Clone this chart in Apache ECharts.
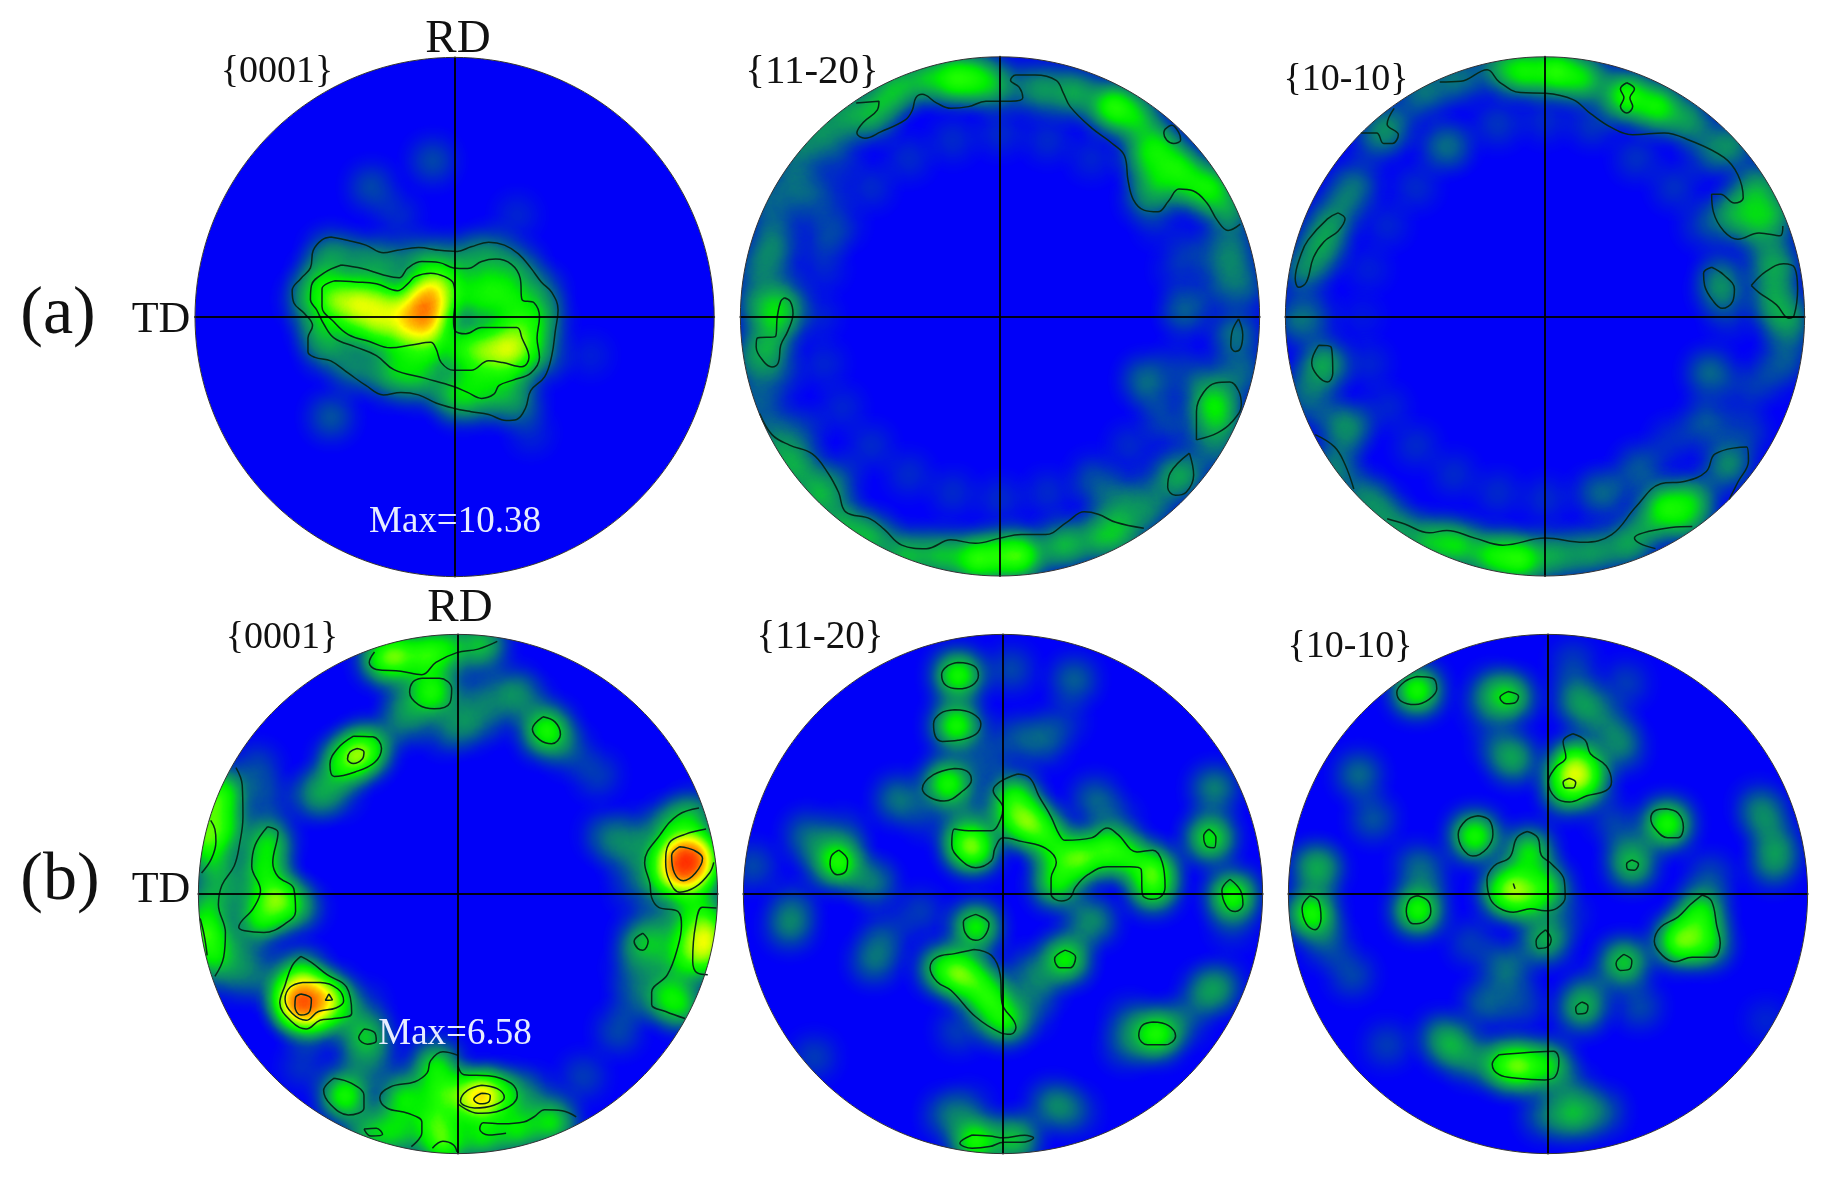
<!DOCTYPE html>
<html>
<head>
<meta charset="utf-8">
<title>Pole figures</title>
<style>
  html, body { margin: 0; padding: 0; background: #fff; }
  #chart { width: 1830px; height: 1183px; }
</style>
<script src="https://cdn.jsdelivr.net/npm/echarts@6/dist/echarts.min.js"></script>
</head>
<body>
<div id="chart"></div>
<script>
// digitised readings, one frame per figure, y running downwards: [x, y, intensity] and contour traces [x, y]
const a1Center = [783, 790];
const a1Heat = [
  [715,715,.5],[700,760,.8],[695,800,.5],[703,755,.9],
  [450,740,.5],[510,742,.5],[570,745,.45],[630,770,.35],[490,800,.3],[560,820,.35],[640,830,.35],[710,840,.25],[740,690,.25],[560,800,.25],[640,800,.25],[720,830,.2],
  [810,880,.4],[870,880,.45],[930,875,.55],[960,890,.3],
  [880,700,.3],[930,730,.3],[850,760,.25],[960,790,.3],[800,720,.25],[700,900,.3],[620,910,.25],[850,960,.28],[930,950,.28],
  [780,1000,.25],[680,970,.25],[980,840,.25],[1030,800,.25],[1030,900,.2],[960,1030,.22],[880,1020,.22],[800,1030,.2],
  [600,960,.22],[500,930,.22],[420,880,.2],[400,820,.25],[370,740,.25],[400,680,.25],[430,610,.22],[520,630,.22],[600,640,.22],
  [700,630,.25],[800,630,.22],[880,610,.22],[960,650,.22],[1020,720,.22],
  [720,345,.12],[545,420,.12],[430,1075,.14],[620,500,.07],[960,500,.06],[1170,900,.05],[1000,1120,.06]
];
const a1Contours = [
  [[430,562],[480,572],[530,585],[580,607],[620,600],[680,592],[740,600],[790,603],[830,590],[880,577],[925,585],[965,610],[1000,650],[1030,690],[1060,720],[1078,770],[1070,830],[1060,900],[1040,960],[1000,1000],[985,1050],[960,1082],[930,1085],[880,1068],[830,1060],[780,1050],[730,1035],[680,1012],[630,1005],[580,1012],[530,985],[480,950],[430,915],[385,905],[365,890],[365,850],[378,815],[355,780],[325,750],[320,715],[345,680],[372,650],[380,600],[405,570],[430,562]],
  [[460,642],[520,652],[580,670],[625,678],[650,650],[690,632],[740,635],[780,650],[820,652],[860,632],[900,625],[945,640],[970,680],[975,740],[1010,750],[1025,790],[1018,850],[1025,905],[1000,950],[950,970],[910,985],[895,1010],[860,1022],[820,1005],[780,988],[700,965],[610,940],[560,900],[500,875],[440,850],[410,810],[390,770],[372,740],[375,700],[410,665],[460,642]],
  [[440,687],[500,690],[560,695],[620,715],[650,695],[670,675],[715,665],[755,675],[780,695],[785,740],[780,800],[785,830],[815,838],[860,820],[960,820],[975,850],[995,905],[975,932],[920,920],[880,915],[830,942],[780,942],[745,920],[730,880],[715,862],[660,870],[600,878],[540,860],[480,840],[440,805],[405,760],[405,710],[440,687]]
];

const a2Center = [770, 788];
const a2Heat = [
  [640,110,.45],[560,110,.3],[480,130,.26],[700,110,.34],[760,130,.26],[880,140,.26],[980,150,.3],[1090,190,.55],[1160,220,.34],[1220,300,.32],[1180,330,.25],[1280,360,.38],[1370,420,.4],[1220,400,.25],[1190,450,.18],[1310,420,.24],[1420,490,.26],
  [700,1480,.6],[830,1470,.6],[600,1470,.34],[500,1470,.34],[950,1440,.34],[1050,1420,.28],[1120,1410,.22],[400,1420,.32],[320,1380,.3],[250,1300,.3],[190,1220,.28],[130,1170,.22],[770,1470,.35],
  [120,550,.17],[80,650,.17],[70,750,.17],[60,900,.15],[150,740,.24],[140,800,.24],[110,880,.24],[100,450,.15],[180,380,.15],[270,440,.1],[270,560,.1],[200,300,.17],[260,250,.19],[330,210,.22],[400,220,.24],[440,170,.22],[60,1000,.12],[100,1080,.14],
  [1380,1040,.38],[1400,1090,.18],[1290,1240,.26],[1185,970,.18],[1440,840,.2],[1300,760,.12],[1400,700,.12],[1470,700,.15],[1330,980,.12],[1250,1100,.08],[1390,1170,.15],[1200,1340,.2],[1130,1300,.14],[1050,1280,.1],[1440,600,.14],[1470,950,.14],[1320,600,.08],
  [303,321,.12],[198,458,.12],[132,617,.12],[110,788,.12],[132,959,.12],[198,1118,.12],[303,1255,.14],[1407,617,.12],[1407,959,.1],[1341,1118,.1],[1237,1255,.12],[1100,1360,.16],
  [320,528,.06],[268,653,.06],[250,788,.06],[268,923,.06],[320,1048,.06],[402,1156,.07],[510,1238,.07],[635,1290,.07],[770,1308,.07],[905,1290,.07],[1030,1238,.07],[1138,1156,.07],[1220,1048,.07],[1272,923,.06],[1290,788,.06],[1272,653,.06],[1220,528,.05],[402,420,.07],[510,338,.07],[635,286,.07],[770,268,.07],[905,286,.07],[1030,338,.06]
];
const a2Contours = [
  [[360,180],[425,175],[420,200],[380,235],[362,265],[385,280],[430,262],[500,228],[520,200],[530,165],[548,155],[590,180],[630,195],[680,190],[730,175],[800,175],[835,165],[825,135],[800,115],[815,100],[870,100],[930,115],[950,150],[970,190],[1030,250],[1090,295],[1125,330],[1135,400],[1150,455],[1180,485],[1220,490],[1250,460],[1280,425],[1320,430],[1360,465],[1390,515],[1420,543],[1455,525]],
  [[1240,255],[1260,243],[1280,265],[1285,285],[1265,295],[1245,285],[1237,265],[1240,255]],
  [[155,735],[172,745],[180,780],[165,830],[145,870],[138,920],[120,932],[95,915],[75,875],[78,850],[130,845],[135,790],[145,745],[155,735]],
  [[1450,795],[1462,840],[1455,880],[1440,888],[1428,870],[1432,830],[1450,795]],
  [[1330,1140],[1330,1060],[1350,1005],[1385,978],[1425,975],[1450,1000],[1458,1040],[1430,1090],[1390,1120],[1330,1140]],
  [[1310,1178],[1322,1240],[1300,1290],[1270,1298],[1248,1275],[1255,1235],[1310,1178]],
  [[85,1065],[120,1125],[170,1155],[235,1180],[280,1235],[310,1290],[330,1345],[400,1365],[440,1395],[490,1440],[560,1450],[630,1425],[700,1435],[770,1420],[830,1410],[900,1410],[960,1375],[1010,1345],[1050,1352],[1100,1375],[1180,1392]]
];

const a3Center = [770, 788];
const a3Heat = [
  [800,90,.55],[880,110,.38],[1000,160,.8],[1090,190,.45],[1180,230,.26],[710,90,.42],[640,80,.24],
  [1300,300,.22],[1380,420,.26],[1420,500,.26],[1300,500,.24],[1370,530,.22],[1430,640,.2],[1420,720,.24],[1270,710,.22],[1470,800,.2],[1460,900,.14],
  [130,580,.2],[80,660,.2],[160,520,.2],[230,410,.15],[480,305,.14],[330,240,.18],[290,280,.15],[420,150,.2],[520,110,.2],[140,920,.26],[60,800,.15],[210,1100,.18],[170,1220,.22],[250,1300,.18],[70,1000,.12],[120,1050,.12],[300,1340,.17],
  [700,1480,.65],[620,1470,.42],[520,1440,.38],[440,1430,.32],[350,1400,.24],[800,1470,.28],[900,1460,.26],[1000,1440,.26],[1110,1330,.42],[1190,1310,.3],[1290,1210,.24],[1170,1370,.24],[1060,1390,.2],[1040,1220,.15],[1240,950,.18],[950,1290,.13],[1230,1090,.15],
  [198,458,.12],[132,617,.09],[110,788,.1],[132,959,.09],[198,1118,.1],[1407,617,.12],[1430,788,.14],[1407,959,.09],[1341,1118,.1],[1237,321,.13],[1341,458,.13],[1130,1140,.08],[1340,1000,.07],
  [320,528,.06],[268,653,.05],[250,788,.04],[268,923,.06],[320,1048,.06],[402,1156,.07],[510,1238,.07],[635,1290,.07],[770,1308,.07],[905,1290,.08],[1220,528,.09],[1272,653,.09],[1290,788,.07],[1138,420,.08],[1030,338,.08],[402,420,.07],[510,300,.07],[635,240,.09],[770,230,.07],[905,240,.09]
];
const a3Contours = [
  [[470,120],[530,118],[605,85],[640,120],[700,150],[770,152],[850,170],[900,210],[960,250],[1020,270],[1110,265],[1180,285],[1280,335],[1320,385],[1335,450],[1310,465],[1270,440],[1245,440],[1250,490],[1280,545],[1320,568],[1380,550],[1440,558],[1448,530]],
  [[1003,122],[1025,140],[1012,165],[1020,190],[1003,208],[985,190],[995,165],[985,140],[1003,122]],
  [[245,265],[290,265],[310,295],[335,295],[352,270],[320,240],[340,195]],
  [[180,493],[200,510],[180,545],[140,575],[110,620],[90,690],[68,705],[58,680],[75,610],[95,570],[150,510],[180,493]],
  [[1245,648],[1280,670],[1310,710],[1305,745],[1275,765],[1250,745],[1225,700],[1222,665],[1245,648]],
  [[1358,700],[1400,660],[1450,638],[1482,650],[1490,710],[1480,785],[1465,793],[1430,755],[1380,720],[1358,700]],
  [[125,870],[160,875],[165,950],[150,975],[120,955],[105,920],[125,870]],
  [[115,1125],[170,1160],[200,1210],[225,1280]],
  [[320,1365],[370,1380],[440,1405],[490,1398],[570,1420],[650,1440],[770,1420],[880,1432],[960,1410],[1030,1330],[1100,1265],[1170,1258],[1230,1230],[1255,1180],[1345,1160],[1350,1200],[1320,1260],[1295,1310]],
  [[1190,1387],[1130,1390],[1050,1405],[1025,1420],[1040,1435],[1085,1450]]
];

const b1Center = [793, 810];
const b1Heat = [
  [1435,720,.9],[1435,725,.9],[1440,710,.8],[1450,705,.5],[1425,750,.5],[1480,690,.4],[1490,750,.3],[1400,620,.3],[1460,590,.3],[1350,700,.22],[1370,780,.25],[1460,830,.3],
  [1500,930,.6],[1500,960,.3],[1495,990,.35],[1495,880,.3],[1430,1000,.3],[1440,940,.22],[1390,1100,.35],[1430,1130,.3],[1300,1100,.14],[1320,945,.3],[1240,660,.12],[1300,640,.12],
  [345,1120,.85],[345,1120,.9],[345,1122,.7],[425,1105,.5],[385,1110,.45],[345,1040,.42],[440,1150,.22],[370,1180,.22],[310,1100,.22],
  [70,650,.65],[80,560,.4],[120,520,.42],[125,620,.36],[100,730,.3],[70,920,.55],[90,990,.35],[80,840,.3],[150,800,.18],
  [250,660,.38],[240,740,.38],[270,820,.52],[230,880,.42],[310,840,.28],[150,1040,.14],
  [505,415,.6],[460,440,.34],[540,390,.34],[400,520,.16],
  [620,130,.45],[700,130,.45],[580,140,.4],[720,235,.56],[760,110,.35],[860,100,.35],[950,235,.22],[820,320,.2],[640,320,.14],[1045,345,.52],[1190,470,.1],[1110,400,.12],
  [470,1385,.6],[730,1300,.42],[750,1380,.45],[640,1390,.42],[730,1460,.45],[750,1520,.5],[860,1385,.8],[860,1388,.9],[930,1380,.3],[820,1390,.3],[860,1500,.42],[960,1480,.42],[1060,1460,.42],[540,1490,.32],[620,1500,.28],[530,1215,.36],
  [640,250,.12],[850,240,.14],[900,300,.1],[760,340,.14],[650,300,.1],[1000,260,.08],[380,530,.12],[450,520,.12],[220,450,.12],[240,540,.12],[350,850,.12],[150,950,.14],[200,1000,.1],[230,1050,.12],[520,1130,.1],[560,1300,.12],[350,1300,.08],[500,1290,.1],[1000,1380,.14],[1150,1330,.1],[1250,1200,.12],[1290,1020,.1],[1350,1000,.14],[1210,640,.1],[1280,720,.1],[1290,800,.08],[1380,900,.16],[620,1460,.16]
];
const b1Contours = [
  [[555,120],[540,150],[560,170],[630,175],[690,185],[730,150],[790,122],[850,112],[905,90]],
  [[690,195],[740,195],[775,225],[770,265],[725,282],[680,270],[655,235],[665,205],[690,195]],
  [[495,360],[550,362],[575,395],[555,435],[500,462],[440,475],[428,440],[450,395],[495,360]],
  [[505,395],[525,405],[520,425],[495,438],[478,425],[485,405],[505,395]],
  [[1035,305],[1070,320],[1085,355],[1060,382],[1025,370],[1005,340],[1035,305]],
  [[160,450],[178,500],[180,590],[170,670],[155,730],[120,785],[110,840],[130,920],[125,990],[100,1045]],
  [[88,600],[100,625],[103,660],[90,710],[62,750]],
  [[58,880],[70,930],[78,985]],
  [[250,618],[280,635],[265,720],[280,760],[325,795],[330,860],[300,895],[240,920],[185,915],[168,905],[210,850],[230,800],[205,730],[215,670],[250,618]],
  [[345,988],[375,1005],[420,1040],[475,1075],[490,1150],[440,1165],[400,1170],[360,1195],[320,1175],[285,1120],[300,1070],[320,1015],[345,988]],
  [[350,1062],[400,1062],[450,1080],[467,1115],[445,1135],[395,1145],[360,1170],[320,1150],[300,1110],[315,1075],[350,1062]],
  [[345,1095],[375,1110],[370,1145],[345,1155],[328,1130],[330,1105],[345,1095]],
  [[425,1095],[435,1112],[415,1113],[425,1095]],
  [[525,1195],[555,1205],[560,1228],[535,1238],[510,1220],[525,1195]],
  [[793,1300],[810,1325],[880,1328],[945,1350],[962,1385],[920,1425],[850,1435],[795,1410]],
  [[860,1355],[905,1365],[925,1390],[895,1412],[840,1420],[800,1400],[820,1370],[860,1355]],
  [[860,1378],[885,1385],[880,1403],[855,1408],[838,1395],[860,1378]],
  [[793,1270],[750,1260],[715,1285],[705,1320],[670,1345],[600,1360],[570,1390],[590,1420],[650,1435],[690,1460],[690,1490],[660,1530]],
  [[1130,1445],[1090,1428],[1040,1425],[1010,1445],[980,1460],[920,1465],[865,1462],[855,1480],[880,1497],[930,1492]],
  [[440,1335],[490,1350],[525,1385],[525,1420],[480,1440],[430,1410],[410,1370],[440,1335]],
  [[525,1480],[560,1478],[578,1495],[545,1500],[525,1480]],
  [[720,1535],[750,1515],[780,1525],[790,1545]],
  [[1480,565],[1420,585],[1370,640],[1325,720],[1340,780],[1345,820],[1365,848],[1420,860],[1430,900],[1420,960],[1390,1040],[1345,1090],[1345,1125],[1385,1145],[1440,1165]],
  [[1500,625],[1440,640],[1395,665],[1385,720],[1395,770],[1425,805],[1470,790],[1510,750],[1522,720]],
  [[1425,675],[1465,685],[1490,708],[1470,750],[1435,772],[1410,750],[1402,700],[1425,675]],
  [[1530,850],[1490,848],[1470,900],[1462,1000],[1475,1035],[1505,1040]],
  [[1320,922],[1335,945],[1320,970],[1305,965],[1295,945],[1320,922]]
];

const b2Center = [778, 810];
const b2Heat = [
  [650,187,.66],[645,330,.7],[620,495,.66],[480,540,.2],[850,605,.6],[810,530,.4],[800,590,.3],[900,640,.36],[1000,710,.6],[940,700,.32],[930,780,.42],[1070,680,.42],[1130,700,.38],[1205,740,.46],[1205,795,.4],[695,680,.5],[670,660,.34],
  [310,720,.5],[1368,650,.44],[1432,815,.68],[700,905,.46],[955,995,.46],[650,1035,.55],[700,1060,.35],[740,1110,.42],[600,1020,.3],[780,1170,.42],[1215,1210,.72],
  [1380,510,.22],[1360,1090,.22],[1140,1170,.12],[220,640,.16],[320,640,.12],[170,900,.2],[410,780,.14],[410,1000,.18],[440,930,.12],[240,1275,.1],[65,730,.12],
  [700,1515,.6],[810,1510,.36],[620,1440,.16],[920,1410,.2],[980,200,.16],[800,170,.12],[1040,540,.16],[1040,890,.16],[850,1030,.14],[720,440,.12],[900,380,.1],
  [790,370,.1],[860,360,.1],[950,320,.08],[1100,600,.1],[1010,880,.12],[880,1080,.14],[850,1150,.1],[650,1200,.1],[540,860,.1],[680,570,.12],[560,590,.08],[400,770,.08],[250,700,.1],[180,840,.1],[1130,1240,.14],[1290,1170,.14],[1400,1070,.14],[1430,900,.08],[680,1420,.1],[980,1430,.12]
];
const b2Contours = [
  [[650,150],[695,160],[708,187],[690,215],[650,225],[615,215],[603,185],[620,160],[650,150]],
  [[640,285],[690,295],[715,325],[700,355],[650,372],[605,375],[585,360],[580,325],[600,295],[640,285]],
  [[640,452],[675,460],[688,485],[665,515],[610,545],[570,535],[548,510],[580,470],[640,452]],
  [[820,468],[855,480],[880,530],[915,590],[938,640],[955,657],[1030,650],[1075,622],[1105,640],[1160,690],[1205,685],[1232,720],[1240,790],[1225,820],[1200,825],[1175,810],[1172,740],[1140,732],[1075,732],[1020,755],[985,790],[970,820],[945,830],[915,810],[915,765],[930,720],[900,680],[830,660],[778,650],[755,680],[745,715],[700,735],[655,710],[632,670],[640,625],[680,630],[745,630],[770,600],[778,565],[750,515],[770,490],[820,468]],
  [[310,685],[335,715],[330,745],[305,755],[285,725],[290,700],[310,685]],
  [[1365,625],[1385,650],[1380,678],[1360,675],[1350,645],[1365,625]],
  [[1425,768],[1455,800],[1462,840],[1440,860],[1415,845],[1402,800],[1425,768]],
  [[700,868],[738,895],[725,930],[700,942],[670,920],[665,890],[700,868]],
  [[955,970],[985,990],[970,1020],[940,1020],[925,995],[955,970]],
  [[695,968],[745,985],[770,1040],[775,1120],[815,1190],[800,1210],[770,1205],[700,1160],[630,1085],[590,1060],[570,1020],[590,990],[640,980],[695,968]],
  [[1205,1175],[1250,1185],[1270,1215],[1240,1240],[1190,1240],[1165,1215],[1175,1185],[1205,1175]],
  [[690,1497],[740,1500],[780,1505],[840,1498],[865,1505],[830,1518],[780,1518],[740,1530],[690,1535],[655,1520],[690,1497]]
];

const b3Center = [779, 810];
const b3Heat = [
  [405,230,.74],[670,250,.36],[620,230,.16],[860,250,.2],[900,290,.18],[680,425,.28],[845,470,.52],[860,430,.36],[890,480,.36],[830,520,.28],[985,390,.2],[1118,610,.66],[1018,725,.34],[570,645,.7],
  [680,790,.58],[725,690,.42],[770,790,.4],[650,810,.3],[720,830,.28],[105,865,.58],[408,855,.54],[405,730,.14],[1215,860,.42],[1150,945,.62],[1230,950,.38],[1180,920,.22],
  [770,940,.32],[995,1005,.38],[875,1135,.3],[700,1300,.58],[780,1300,.38],[650,1297,.36],[500,1240,.26],[560,1280,.18],[600,1120,.16],[660,1020,.2],
  [130,740,.2],[110,730,.16],[240,470,.18],[280,595,.14],[1380,560,.14],[1430,680,.2],[1400,600,.16],[1420,730,.16],[150,950,.14],[220,1040,.12],[320,1240,.1],[850,1440,.3],[930,1430,.16],[770,1440,.16],[850,1370,.12],[1040,1130,.12],[1400,1170,.06],[850,150,.1],[1000,210,.1],
  [600,280,.1],[630,380,.1],[960,330,.12],[950,590,.08],[1000,650,.1],[1240,760,.12],[440,760,.08],[560,950,.1],[830,870,.08],[900,1080,.1],[700,1120,.12],[470,1210,.12]
];
const b3Contours = [
  [[405,190],[450,195],[462,225],[440,255],[400,270],[360,260],[348,235],[370,205],[405,190]],
  [[665,233],[695,247],[685,265],[660,268],[642,250],[665,233]],
  [[850,353],[885,372],[900,410],[945,445],[960,490],[945,515],[890,530],[840,548],[800,535],[780,490],[800,450],[830,420],[822,375],[850,353]],
  [[840,480],[858,492],[850,508],[830,508],[822,492],[840,480]],
  [[580,587],[612,600],[622,640],[605,680],[565,702],[535,680],[523,640],[545,600],[580,587]],
  [[1115,567],[1150,580],[1165,620],[1150,650],[1120,650],[1085,625],[1072,595],[1085,572],[1115,567]],
  [[1018,713],[1037,725],[1025,742],[1007,740],[1003,725],[1018,713]],
  [[720,632],[750,650],[760,700],[790,725],[825,770],[828,820],[805,850],[770,858],[730,852],[680,862],[640,850],[615,825],[605,770],[625,730],[670,705],[690,650],[720,632]],
  [[100,815],[125,830],[132,880],[115,912],[90,895],[78,850],[100,815]],
  [[408,815],[437,830],[445,860],[425,890],[395,895],[375,860],[385,825],[408,815]],
  [[1218,813],[1245,830],[1260,900],[1270,950],[1250,990],[1190,990],[1140,1003],[1105,985],[1082,945],[1100,905],[1150,875],[1185,840],[1218,813]],
  [[772,912],[788,940],[775,962],[752,965],[745,945],[772,912]],
  [[995,982],[1018,1000],[1010,1025],[985,1028],[973,1008],[995,982]],
  [[875,1118],[893,1130],[885,1150],[865,1152],[858,1135],[875,1118]],
  [[640,1268],[720,1262],[795,1258],[810,1285],[800,1330],[770,1340],[690,1335],[640,1325],[620,1295],[640,1268]],
  [[680,780],[685,795]]
];

const heatColors = ['#0000f8', '#0040b0', '#0a8070', '#0cb048', '#00f000', '#20ff00', '#90ff00', '#ffff00', '#ff9000', '#ff0000'];

// label text
const figureLabels = ['{0001}', '{11-20}', '{10-10}'];

const digitRadius = 740;
const frameRadius = 259.6;
const maskMargin = 1.03;

const figures = [
  { heat: a1Heat, contours: a1Contours, origin: a1Center, at: [454.6, 317] },
  { heat: a2Heat, contours: a2Contours, origin: a2Center, at: [1000, 316.4] },
  { heat: a3Heat, contours: a3Contours, origin: a3Center, at: [1545, 316.4] },
  { heat: b1Heat, contours: b1Contours, origin: b1Center, at: [458, 894] },
  { heat: b2Heat, contours: b2Contours, origin: b2Center, at: [1003, 894] },
  { heat: b3Heat, contours: b3Contours, origin: b3Center, at: [1548, 894] }
];

// unit circle outline, used for the disk map, its mask and the rim
const ring = [];
for (let i = 0; i <= 180; i++) {
  const t = (i / 180) * Math.PI * 2;
  ring.push([Math.cos(t), Math.sin(t)]);
}

const feature = (name, coords) => ({
  type: 'Feature',
  properties: { name },
  geometry: { type: 'Polygon', coordinates: [coords] }
});

echarts.registerMap('disk', { type: 'FeatureCollection', features: [feature('disk', ring)] });
// square with a round hole, keeps the blur inside the disk
const m = maskMargin;
echarts.registerMap('diskMask', {
  type: 'FeatureCollection',
  features: [feature('mask', [[m, 0], [m, m], [-m, m], [-m, -m], [m, -m], [m, 0]].concat(ring.slice().reverse()))]
});

const geo = [];
const grid = [];
const xAxis = [];
const yAxis = [];
const series = [];
const heatIndexes = [];

figures.forEach((fig, i) => {
  const toPole = (p) => [(p[0] - fig.origin[0]) / digitRadius, (fig.origin[1] - p[1]) / digitRadius];
  const geoBase = {
    silent: true,
    aspectScale: 1,
    layoutCenter: fig.at,
    label: { show: false },
    emphasis: { disabled: true },
    select: { disabled: true }
  };
  geo.push(Object.assign({}, geoBase, { map: 'disk', z: 0, layoutSize: frameRadius * 2, itemStyle: { areaColor: heatColors[0], borderWidth: 0 } }));
  geo.push(Object.assign({}, geoBase, { map: 'diskMask', z: 3, layoutSize: frameRadius * 2 * m, itemStyle: { areaColor: '#fff', borderWidth: 0 } }));

  grid.push({
    left: fig.at[0] - frameRadius,
    top: fig.at[1] - frameRadius,
    width: frameRadius * 2,
    height: frameRadius * 2,
    containLabel: false
  });
  const axisBase = {
    type: 'value',
    gridIndex: i,
    min: -1,
    max: 1,
    z: 5,
    silent: true,
    axisLine: { show: true, onZero: true, lineStyle: { color: '#000', width: 2, opacity: 0.9 } },
    axisTick: { show: false },
    axisLabel: { show: false },
    splitLine: { show: false }
  };
  xAxis.push(Object.assign({}, axisBase));
  yAxis.push(Object.assign({}, axisBase));

  heatIndexes.push(series.length);
  series.push({
    type: 'heatmap',
    coordinateSystem: 'geo',
    geoIndex: i * 2,
    z: 2,
    silent: true,
    pointSize: 16,
    blurSize: 28,
    minOpacity: 1,
    maxOpacity: 1,
    data: fig.heat.map((p) => toPole(p).concat(p[2]))
  });

  const contourData = [];
  fig.contours.forEach((trace) => {
    trace.forEach((p) => contourData.push(toPole(p)));
    contourData.push(['-', '-']);
  });
  series.push({
    type: 'line',
    xAxisIndex: i,
    yAxisIndex: i,
    z: 4,
    silent: true,
    clip: false,
    smooth: 0.4,
    showSymbol: false,
    symbol: 'none',
    connectNulls: false,
    lineStyle: { color: '#06281a', width: 1.5 },
    data: contourData
  });
  series.push({
    type: 'line',
    xAxisIndex: i,
    yAxisIndex: i,
    z: 6,
    silent: true,
    clip: false,
    showSymbol: false,
    symbol: 'none',
    lineStyle: { color: '#333', width: 1 },
    data: ring
  });
});

const serif = '"Liberation Serif", "Times New Roman", serif';
const label = (text, x, y, size, fill) => ({
  type: 'text',
  x,
  y,
  z: 100,
  silent: true,
  style: { text, fontFamily: serif, fontSize: size, fill: fill || '#111', align: 'center', verticalAlign: 'middle' }
});

const chart = echarts.init(document.getElementById('chart'), null, { renderer: 'canvas' });
chart.setOption({
  animation: false,
  backgroundColor: '#fff',
  tooltip: { show: false },
  visualMap: {
    type: 'continuous',
    show: false,
    min: 0,
    max: 0.5,
    seriesIndex: heatIndexes,
    inRange: { color: heatColors }
  },
  geo,
  grid,
  xAxis,
  yAxis,
  series,
  graphic: [
    label('RD', 458, 40, 47),
    label('RD', 460, 609, 47),
    label('TD', 161, 320, 44),
    label('TD', 161, 890, 44),
    label('(a)', 58, 315, 68),
    label('(b)', 60, 881, 68),
    label(figureLabels[0], 277, 72, 38),
    label(figureLabels[1], 812, 72, 41),
    label(figureLabels[2], 1346, 80, 38),
    label(figureLabels[0], 282, 638, 38),
    label(figureLabels[1], 820, 638, 39),
    label(figureLabels[2], 1350, 647, 38),
    label('Max=10.38', 455, 522, 37, '#e6ecff'),
    label('Max=6.58', 455, 1034, 37, '#e6ecff')
  ]
});
</script>
</body>
</html>
